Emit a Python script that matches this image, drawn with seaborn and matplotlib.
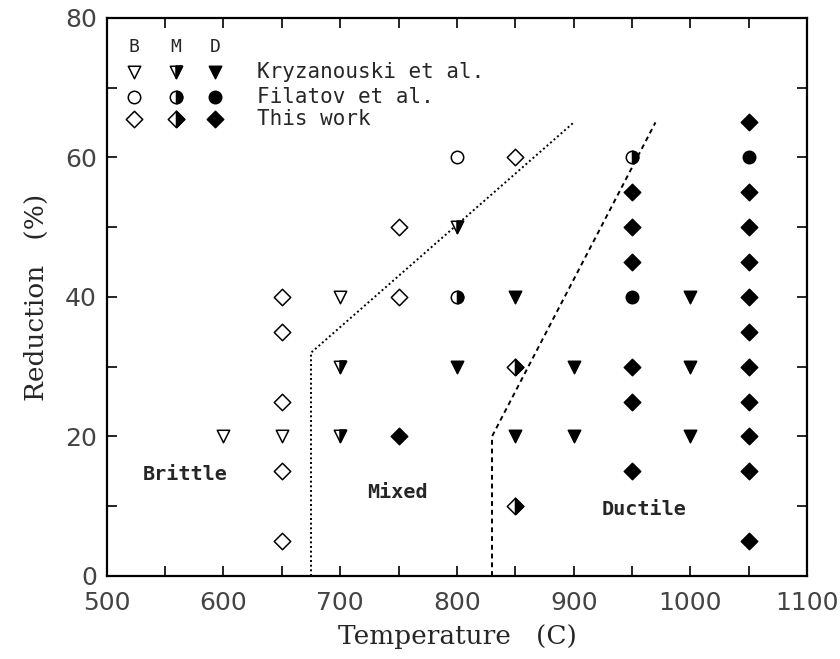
import matplotlib
matplotlib.use("Agg")
import matplotlib.pyplot as plt
from matplotlib.markers import MarkerStyle
import seaborn as sns

# ---- data ----
kryz_B_x = [600, 650, 700]
kryz_B_y = [20, 20, 40]
kryz_M_x = [800, 700, 700]
kryz_M_y = [50, 30, 20]
kryz_D_x = [850, 800, 900, 850, 900, 1000, 1000, 1000]
kryz_D_y = [40, 30, 30, 20, 20, 40, 30, 20]

fil_B_x = [800]
fil_B_y = [60]
fil_M_x = [800, 950]
fil_M_y = [40, 60]
fil_D_x = [1050, 950]
fil_D_y = [60, 40]

this_B_x = [650, 650, 650, 650, 650, 750, 750, 850]
this_B_y = [40, 35, 25, 15, 5, 50, 40, 60]
this_M_x = [850, 850]
this_M_y = [30, 10]
this_D_x = [750, 950, 950, 950, 950, 950, 950,
            1050, 1050, 1050, 1050, 1050, 1050, 1050, 1050, 1050, 1050, 1050]
this_D_y = [20, 55, 50, 45, 30, 25, 15,
            65, 55, 50, 45, 40, 35, 30, 25, 20, 15, 5]

brittle_x = [675, 675, 900]
brittle_y = [0, 32, 65]
ductile_x = [830, 830, 970]
ductile_y = [0, 20, 65]

region_labels = ["Brittle", "Mixed", "Ductile"]
region_x = [567, 749, 960]
region_y = [14.5, 12, 9.5]

legend_cols = ["B", "M", "D"]
legend_col_x = [523, 559, 593]
legend_rows = ["Kryzanouski et al.", "Filatov et al.", "This work"]
legend_row_y = [72.3, 68.7, 65.5]
legend_header_y = 75.8
legend_text_x = 629

# ---- style ----
sns.set_theme(style="ticks")
plt.rcParams["font.family"] = ["DejaVu Sans"]

fig = plt.figure(figsize=(8.4, 6.59), dpi=100)
ax = fig.add_axes([0.127, 0.126, 0.834, 0.847])

sizes = {"v": 80, "o": 80, "D": 70}


def draw(xs, ys, m, kind):
    if not xs:
        return
    s = sizes[m]
    if kind == "B":
        sns.scatterplot(x=xs, y=ys, ax=ax, marker=m, s=s, facecolor="white",
                        edgecolor="black", linewidth=1.1, zorder=3)
    elif kind == "D":
        sns.scatterplot(x=xs, y=ys, ax=ax, marker=m, s=s, facecolor="black",
                        edgecolor="black", linewidth=1.1, zorder=3)
    else:
        sns.scatterplot(x=xs, y=ys, ax=ax, marker=m, s=s, facecolor="white",
                        edgecolor="black", linewidth=1.1, zorder=3)
        sns.scatterplot(x=xs, y=ys, ax=ax, marker=MarkerStyle(m, fillstyle="right"),
                        s=s, facecolor="black", edgecolor="black", linewidth=1.1,
                        zorder=4)


draw(kryz_B_x, kryz_B_y, "v", "B")
draw(kryz_M_x, kryz_M_y, "v", "M")
draw(kryz_D_x, kryz_D_y, "v", "D")
draw(fil_B_x, fil_B_y, "o", "B")
draw(fil_M_x, fil_M_y, "o", "M")
draw(fil_D_x, fil_D_y, "o", "D")
draw(this_B_x, this_B_y, "D", "B")
draw(this_M_x, this_M_y, "D", "M")
draw(this_D_x, this_D_y, "D", "D")

# boundaries
sns.lineplot(x=brittle_x, y=brittle_y, ax=ax, sort=False, estimator=None,
             color="black", linewidth=1.4, linestyle=(0, (1, 1.4)))
sns.lineplot(x=ductile_x, y=ductile_y, ax=ax, sort=False, estimator=None,
             color="black", linewidth=1.4, linestyle=(0, (2.5, 2)))

mono = {"family": "DejaVu Sans Mono", "weight": "bold", "size": 14.5}
for lab, x, y in zip(region_labels, region_x, region_y):
    ax.text(x, y, lab, ha="center", va="center", fontdict=mono)

# manual legend
legend_markers = ["v", "o", "D"]
for lab, x in zip(legend_cols, legend_col_x):
    ax.text(x, legend_header_y, lab, ha="center", va="center",
            fontdict={"family": "DejaVu Sans Mono", "size": 13})
for lab, m, y in zip(legend_rows, legend_markers, legend_row_y):
    for kind, x in zip(legend_cols, legend_col_x):
        draw([x], [y], m, kind)
    ax.text(legend_text_x, y, lab, ha="left", va="center",
            fontdict={"family": "DejaVu Sans Mono", "size": 15})

ax.set_xlim(500, 1100)
ax.set_ylim(0, 80)
ax.set_xticks(range(500, 1101, 100))
ax.set_xticks(range(550, 1100, 100), minor=True)
ax.set_yticks(range(0, 81, 20))
ax.set_yticks(range(10, 80, 20), minor=True)
ax.tick_params(which="both", direction="in", top=True, right=True,
               colors="black", width=1.2)
ax.tick_params(which="major", length=7, labelsize=18)
ax.tick_params(which="minor", length=7)
ax.tick_params(axis="x", which="major", pad=11)
ax.tick_params(axis="y", which="major", pad=7)
for lab in ax.get_xticklabels() + ax.get_yticklabels():
    lab.set_family("DejaVu Sans")
    lab.set_color("#444444")
for sp in ax.spines.values():
    sp.set_color("black")
    sp.set_linewidth(1.6)

ax.set_xlabel("Temperature   (C)", fontsize=19, family="DejaVu Serif", labelpad=6)
ax.set_ylabel("Reduction   (%)", fontsize=19, family="DejaVu Serif", labelpad=12)

fig.savefig("out.png", dpi=100, facecolor="white")
